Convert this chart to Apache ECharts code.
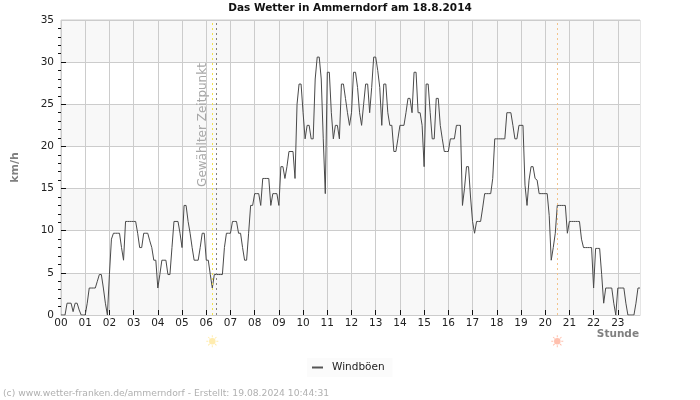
<!DOCTYPE html>
<html><head><meta charset="utf-8">
<style>html,body{margin:0;padding:0;background:#fff}#c{width:700px;height:400px}</style>
<script src="https://cdn.jsdelivr.net/npm/echarts@6/dist/echarts.min.js"></script>
</head><body><div id="c"></div>
<script>
const titleText = 'Das Wetter in Ammerndorf am 18.8.2014';
const seriesName = 'Windböen';
const hourLabels = ['00','01','02','03','04','05','06','07','08','09','10','11','12','13','14','15','16','17','18','19','20','21','22','23'];
const yTicks = [0,5,10,15,20,25,30,35];
const h00 = [0,0,0,1.4,1.4,1.4,0.4,1.4,1.4,0.6,0,0];
const h01 = [0,1.4,3.2,3.2,3.2,3.2,4,4.8,4.8,3.2,1.4,0];
const h02 = [4.8,9,9.7,9.7,9.7,9.7,8,6.5,11.1,11.1,11.1,11.1];
const h03 = [11.1,11.1,9.7,8,8,9.7,9.7,9.7,8.8,8,6.5,6.5];
const h04 = [3.2,4.8,6.5,6.5,6.5,4.8,4.8,8,11.1,11.1,11.1,9.7];
const h05 = [8,13,13,11.1,9.7,8,6.5,6.5,6.5,8,9.7,9.7];
const h06 = [6.5,6.5,4.8,3.2,4.8,4.8,4.8,4.8,4.8,8,9.7,9.7];
const h07 = [9.7,11.1,11.1,11.1,9.7,9.7,8,6.5,6.5,9.7,13,13];
const h08 = [14.4,14.4,14.4,13,16.2,16.2,16.2,16.2,13,14.4,14.4,14.4];
const h09 = [13,17.6,17.6,16.2,17.6,19.4,19.4,19.4,16.2,25,27.4,27.4];
const h10 = [24,20.9,22.5,22.5,20.9,20.9,28,30.6,30.6,28,20.9,14.4];
const h11 = [28.8,28.8,24,20.9,22.5,22.5,20.9,27.4,27.4,25.7,24,22.5];
const h12 = [24,28.8,28.8,27,24,22.5,25,27.4,27.4,24,27,30.6];
const h13 = [30.6,29,27,22.5,27.4,27.4,24,22.5,22.5,19.4,19.4,20.9];
const h14 = [22.5,22.5,22.5,24,25.7,25.7,24,28.8,28.8,24,24,22.5];
const h15 = [17.6,27.4,27.4,24,20.9,20.9,25.7,25.7,22.5,20.9,19.4,19.4];
const h16 = [19.4,20.9,20.9,20.9,22.5,22.5,22.5,13,15,17.6,17.6,14];
const h17 = [11.1,9.7,11.1,11.1,11.1,12.7,14.4,14.4,14.4,14.4,16.2,20.9];
const h18 = [20.9,20.9,20.9,20.9,20.9,24,24,24,22.5,20.9,20.9,22.5];
const h19 = [22.5,22.5,15.4,13,16,17.6,17.6,16.2,16,14.4,14.4,14.4];
const h20 = [14.4,14.4,11.8,6.5,8,9.7,13,13,13,13,13,9.7];
const h21 = [11.1,11.1,11.1,11.1,11.1,11.1,9,8,8,8,8,8];
const h22 = [3.2,7.9,7.9,7.9,4.8,1.4,3.2,3.2,3.2,3.2,1.4,0];
const h23 = [3.2,3.2,3.2,3.2,1.4,0,0,0,0,1.4,3.2,3.2];
const gusts = [].concat(h00,h01,h02,h03,h04,h05,h06,h07,h08,h09,h10,h11,h12,h13,h14,h15,h16,h17,h18,h19,h20,h21,h22,h23);
const minutes = ['00','05','10','15','20','25','30','35','40','45','50','55'];
const categories = hourLabels.flatMap(h => minutes.map(m => h + ':' + m));
const sunriseTime = '06:15', selectedTime = '06:25', sunsetTime = '20:30';
const sunBelowAxis = -3.1;

// small sun glyph: disc with eight rays
const sunPath = 'path://M12 5.5a6.5 6.5 0 1 0 0 13a6.5 6.5 0 1 0 0-13z' +
  'M11 0h2v4h-2zM11 20h2v4h-2zM0 11h4v2h-4zM20 11h4v2h-4z' +
  'M3 4.4l1.4-1.4l3 3l-1.4 1.4zM16.6 18l1.4-1.4l3 3l-1.4 1.4zM19.6 3l1.4 1.4l-3 3l-1.4-1.4zM6 16.6l1.4 1.4l-3 3l-1.4-1.4z';

const font = '"DejaVu Sans"';
const chart = echarts.init(document.getElementById('c'), null, {renderer:'canvas'});
const vLine = (time, color) => ({
  xAxis: time,
  lineStyle: {color, type: [2,3], width: 1}
});
chart.setOption({
  animation: false,
  backgroundColor: '#fff',
  textStyle: {fontFamily: font},
  title: [
    {text: titleText, left: 350, top: 3, textAlign: 'center', padding: 0,
     textStyle: {fontFamily: font, fontSize: 10.5, fontWeight: 'bold', color: '#111'}},
    {text: '(c) www.wetter-franken.de/ammerndorf - Erstellt: 19.08.2024 10:44:31', left: 3, top: 389, padding: 0,
     textStyle: {fontFamily: font, fontSize: 9.2, fontWeight: 'normal', color: '#b0b0b0'}}
  ],
  legend: {
    data: [{name: seriesName}], left: 307, top: 358, padding: [4,8,4,5],
    backgroundColor: '#fbfbfb', itemWidth: 11, itemHeight: 2, itemGap: 4,
    icon: 'rect',
    textStyle: {fontFamily: font, fontSize: 10.5, color: '#222', padding: [0,0,0,4]}
  },
  grid: {left: 61, right: 60, top: 20, bottom: 85, show: true, borderColor: '#ccc', borderWidth: 1, backgroundColor: 'transparent'},
  xAxis: {
    type: 'category', data: categories, boundaryGap: false,
    axisLine: {show: true, lineStyle: {color: '#ccc'}},
    axisTick: {show: true, inside: true, length: 5, alignWithLabel: true, lineStyle: {color: '#111'},
      interval: idx => idx > 0 && idx % 12 === 0},
    axisLabel: {interval: 11, margin: 3, fontSize: 10.5, color: '#222', fontFamily: font, formatter: v => v.slice(0,2), hideOverlap: false},
    splitLine: {show: true, interval: 11, lineStyle: {color: '#ccc'}}
  },
  yAxis: [{
    type: 'value', min: yTicks[0], max: yTicks[yTicks.length-1], interval: 5,
    name: 'km/h', nameLocation: 'middle', nameGap: 40, nameRotate: 90,
    nameTextStyle: {fontFamily: font, fontSize: 11, fontWeight: 'bold', color: '#808080'},
    axisLine: {show: false},
    axisTick: {show: false},
    minorTick: {show: true, splitNumber: 5, length: 3, lineStyle: {color: '#111'}},
    axisLabel: {margin: 7, fontSize: 10.5, color: '#222', fontFamily: font},
    splitLine: {show: true, lineStyle: {color: '#ccc'}},
    splitArea: {show: true, areaStyle: {color: ['#f8f8f8','#ffffff']}}
  }, {
    type: 'value', position: 'left', min: yTicks[0], max: yTicks[yTicks.length-1], interval: 5,
    axisLine: {show: false}, axisLabel: {show: false}, splitLine: {show: false}, splitArea: {show: false},
    axisTick: {show: true, inside: true, length: 5, lineStyle: {color: '#111'}, customValues: yTicks.slice(1,-1)}
  }],
  graphic: [
    {type:'text', z: 100, x: 639, y: 334, style:{text:'Stunde', align:'right', verticalAlign:'middle', font:'bold 10.5px "DejaVu Sans"', fill:'#808080'}},
    {type:'text', z: 100, x: 203, y: 125, rotation: Math.PI/2, style:{text:'Gewählter Zeitpunkt', align:'center', verticalAlign:'middle', font:'12px "DejaVu Sans"', fill:'#a8a8a8'}}
  ],
  series: [
    {
      name: seriesName, type: 'line', data: gusts, showSymbol: false, symbol: 'none',
      lineStyle: {color: '#4a4a4a', width: 1}, itemStyle: {color: '#555'},
      markLine: {
        silent: true, symbol: 'none', animation: false, label: {show: false},
        data: [vLine(sunriseTime,'#f2e24a'), vLine(selectedTime,'#808080'), vLine(sunsetTime,'#f3c48c')]
      }
    },
    {
      name: 'Sonnenaufgang', type: 'scatter', clip: false, silent: true, symbol: sunPath, symbolSize: 12,
      data: [[sunriseTime, sunBelowAxis]], itemStyle: {color: '#ffe79a'}
    },
    {
      name: 'Sonnenuntergang', type: 'scatter', clip: false, silent: true, symbol: sunPath, symbolSize: 12,
      data: [[sunsetTime, sunBelowAxis]], itemStyle: {color: '#ffb09a'}
    }
  ]
});
</script></body></html>
